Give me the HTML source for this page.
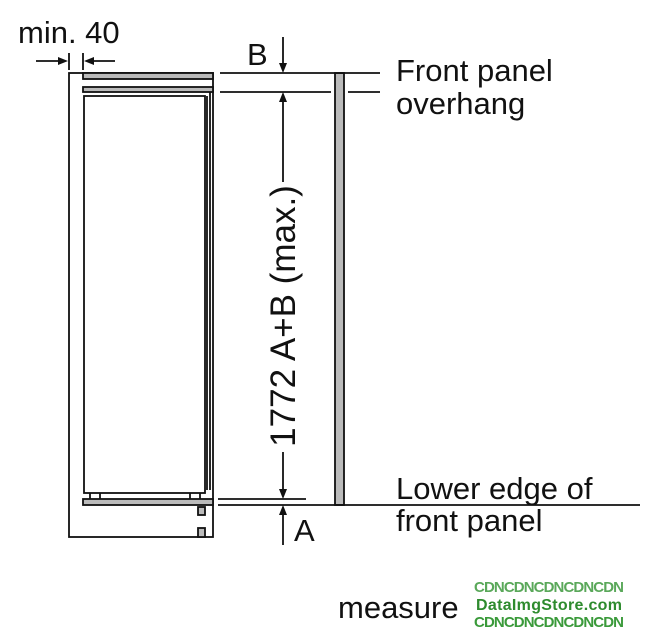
<!DOCTYPE html>
<html><head><meta charset="utf-8"><style>
body{margin:0;background:#fff;width:662px;height:640px;overflow:hidden}
svg{display:block}
text{font-family:"Liberation Sans",sans-serif;fill:#111}
</style></head><body>
<svg width="662" height="640" viewBox="0 0 662 640" xmlns="http://www.w3.org/2000/svg">
<g stroke="#111" stroke-width="1.8" fill="none">
<rect x="69" y="73" width="144" height="464"/>
<rect x="83" y="73" width="130" height="6" fill="#bbb"/>
<rect x="83" y="87" width="130" height="5" fill="#bbb"/>
<rect x="84" y="96" width="121" height="397"/>
<line x1="207" y1="96" x2="207" y2="490"/>
<line x1="210" y1="92" x2="210" y2="490"/>
<line x1="90" y1="493" x2="90" y2="499"/>
<line x1="100" y1="493" x2="100" y2="499"/>
<line x1="190" y1="493" x2="190" y2="499"/>
<line x1="200" y1="493" x2="200" y2="499"/>
<rect x="83" y="499" width="130" height="6" fill="#bbb"/>
<rect x="198" y="507" width="7" height="8" fill="#bbb"/>
<rect x="198" y="528" width="7" height="9" fill="#bbb"/>
<rect x="335" y="73" width="9" height="432" fill="#bbb"/>
<line x1="220" y1="73" x2="380" y2="73"/>
<line x1="220" y1="92" x2="331" y2="92"/>
<line x1="348" y1="92" x2="380" y2="92"/>
<line x1="218" y1="499" x2="306" y2="499"/>
<line x1="218" y1="505" x2="640" y2="505"/>
<line x1="283" y1="37" x2="283" y2="66"/>
<line x1="283" y1="100" x2="283" y2="182"/>
<line x1="283" y1="452" x2="283" y2="491"/>
<line x1="283" y1="513" x2="283" y2="545"/>
<line x1="36" y1="61" x2="62" y2="61"/>
<line x1="90" y1="61" x2="115" y2="61"/>
<line x1="69" y1="53" x2="69" y2="70"/>
<line x1="83" y1="53" x2="83" y2="70"/>
</g>
<g fill="#111">
<polygon points="283,73 279,63 287,63"/>
<polygon points="283,92 279,102 287,102"/>
<polygon points="283,499 279,489 287,489"/>
<polygon points="283,505 279,515 287,515"/>
<polygon points="68,61 58,57 58,65"/>
<polygon points="84,61 94,57 94,65"/>
</g>
<text x="18" y="43" font-size="31">min. 40</text>
<text x="247" y="65" font-size="31">B</text>
<text x="294" y="541" font-size="31">A</text>
<text x="396" y="81" font-size="31">Front panel</text>
<text x="396" y="114" font-size="31">overhang</text>
<text x="396" y="499" font-size="31">Lower edge of</text>
<text x="396" y="531" font-size="31">front panel</text>
<text x="338" y="618" font-size="31">measure</text>
<text transform="translate(295,316) rotate(-90)" text-anchor="middle" font-size="35">1772 A+B (max.)</text>
<rect x="458" y="578" width="200" height="56" fill="#fff"/>
<text x="474" y="592" font-size="15" font-weight="bold" style="fill:#5aa85a" textLength="150">CDNCDNCDNCDNCDN</text>
<text x="476" y="610" font-size="16" font-weight="bold" style="fill:#2e8b2e" textLength="146">DataImgStore.com</text>
<text x="474" y="627" font-size="15" font-weight="bold" style="fill:#3a9a3a" textLength="150">CDNCDNCDNCDNCDN</text>
</svg>
</body></html>
